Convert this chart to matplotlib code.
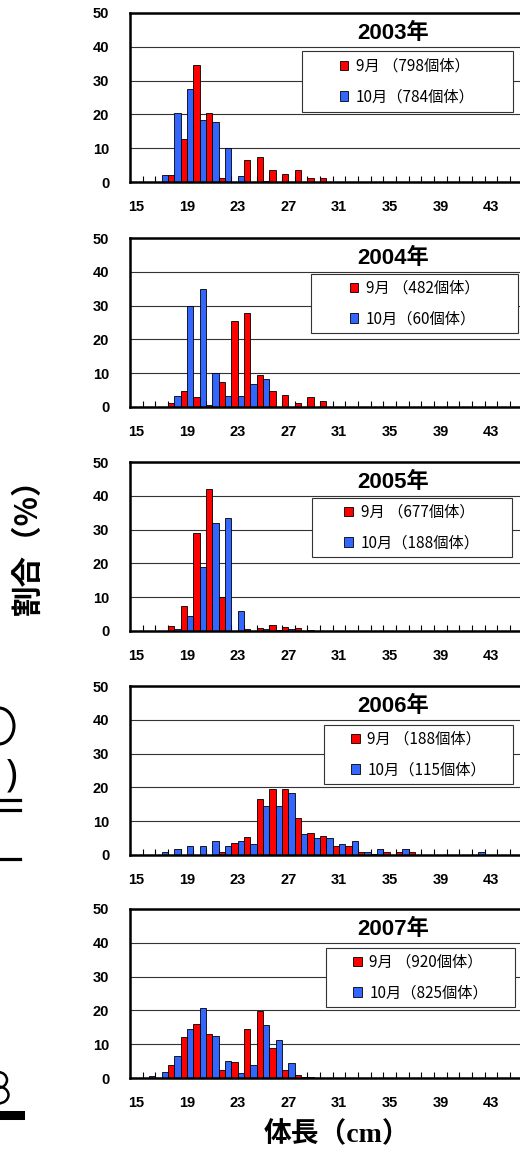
import numpy as np
import matplotlib.pyplot as plt
from matplotlib.patches import Patch, Rectangle, Arc
from matplotlib.font_manager import FontProperties

# body length classes (cm)
lengths = list(range(15, 46))
tick_lengths = [15, 19, 23, 27, 31, 35, 39, 43]

years = ["2003年", "2004年", "2005年", "2006年", "2007年"]
sep_n = ["798", "482", "677", "188", "920"]
oct_n = ["784", "60", "188", "115", "825"]

#            15   16   17   18    19    20    21    22    23   24    25    26    27    28    29   30   31 32 33 34 35 36 37 38 39 40 41 42 43 44 45
sep_2003 = [0, 0, 0, 2.0, 12.6, 34.7, 20.5, 1.3, 0, 6.6, 7.5, 3.5, 2.4, 3.5, 1.3, 1.3,
            0, 0, 0, 0, 0, 0, 0, 0, 0, 0, 0, 0, 0, 0, 0]
oct_2003 = [0, 0, 2.0, 20.3, 27.4, 18.4, 17.8, 10.2, 1.7, 0, 0.4,
            0, 0, 0, 0, 0, 0, 0, 0, 0, 0, 0, 0, 0, 0, 0, 0, 0, 0, 0, 0]
sep_2004 = [0, 0, 0, 1.3, 4.7, 3.0, 0.7, 7.3, 25.5, 27.7, 9.6, 4.7, 3.5, 1.1, 3.0, 1.7,
            0, 0, 0, 0, 0, 0, 0, 0, 0, 0, 0, 0, 0, 0, 0]
oct_2004 = [0, 0, 0, 3.3, 30.0, 35.0, 10.0, 3.3, 3.3, 6.7, 8.3,
            0, 0, 0, 0, 0, 0, 0, 0, 0, 0, 0, 0, 0, 0, 0, 0, 0, 0, 0, 0]
sep_2005 = [0, 0, 0, 1.4, 7.4, 29.1, 41.9, 10.2, 0, 0.7, 0.8, 1.8, 1.2, 0.8, 0.3,
            0, 0, 0, 0, 0, 0, 0, 0, 0, 0, 0, 0, 0, 0, 0, 0]
oct_2005 = [0, 0, 0, 0.7, 4.4, 18.9, 32.0, 33.5, 5.9, 0, 0.6, 0.4, 0.7,
            0, 0, 0, 0, 0, 0, 0, 0, 0, 0, 0, 0, 0, 0, 0, 0, 0, 0]
sep_2006 = [0, 0, 0, 0, 0, 0, 0, 0.8, 3.6, 5.2, 16.6, 19.6, 19.6, 10.9, 6.4, 5.7,
            2.6, 2.8, 0.8, 0.4, 0.8, 0.8, 0.8, 0, 0, 0, 0, 0, 0, 0, 0]
oct_2006 = [0, 0, 0.8, 1.7, 2.7, 2.7, 4.1, 2.7, 4.1, 3.3, 14.6, 14.6, 18.3, 6.1, 5.1, 5.1,
            3.2, 4.1, 0.8, 1.7, 0, 1.7, 0, 0, 0, 0, 0, 0.8, 0, 0, 0]
sep_2007 = [0, 0, 0, 3.7, 12.0, 16.0, 13.1, 2.4, 4.8, 14.4, 19.8, 9.0, 2.4, 0.8, 0.2, 0,
            0.1, 0, 0, 0, 0, 0, 0, 0, 0, 0, 0, 0, 0, 0, 0]
oct_2007 = [0, 0.6, 1.8, 6.6, 14.6, 20.8, 12.5, 5.0, 1.4, 3.9, 15.8, 11.3, 4.5, 0.4, 0.1, 0,
            0, 0, 0, 0, 0, 0, 0, 0, 0, 0, 0, 0, 0, 0, 0]

sep_data = [sep_2003, sep_2004, sep_2005, sep_2006, sep_2007]
oct_data = [oct_2003, oct_2004, oct_2005, oct_2006, oct_2007]

RED = "#ff0000"
BLUE = "#3366ff"
W, H = 520, 1152

# layout in pixels
AX_LEFT = 130
AX_W = 31 * 12.67
AX_H = 169
tops = [13, 238, 462, 686, 909]
legend_boxes = [(302, 513, 38, 99), (311, 518, 36, 95), (312, 512, 36, 95),
                (324, 513, 39, 98), (326, 515, 39, 98)]

tick_font = dict(family=["Liberation Sans"], weight="bold", size=10.5)
leg_font = FontProperties(family=["Noto Sans CJK JP"], size=11)


def draw_panel(ax, i):
    x = np.array(lengths)
    ax.bar(x - 0.25, sep_data[i], 0.5, color=RED, edgecolor="black", linewidth=0.6, zorder=2)
    ax.bar(x + 0.25, oct_data[i], 0.5, color=BLUE, edgecolor="black", linewidth=0.6, zorder=2)

    ax.set_xlim(14.5, 45.5)
    ax.set_ylim(0, 50)
    ax.set_yticks(range(0, 51, 10))
    ax.set_yticklabels([str(v) for v in range(0, 51, 10)], fontdict=tick_font)
    ax.set_xticks(tick_lengths)
    ax.set_xticklabels([str(v) for v in tick_lengths], fontdict=tick_font)
    ax.set_xticks(np.arange(15.5, 45.5, 1), minor=True)
    ax.tick_params(axis="x", which="major", length=0, pad=13)
    ax.tick_params(axis="x", which="minor", direction="in", length=4, width=0.8)
    ax.tick_params(axis="y", length=0, pad=15)

    ax.yaxis.grid(True, color="#333333", linewidth=0.8)
    ax.set_axisbelow(True)
    for side in ["left", "bottom", "top"]:
        ax.spines[side].set_linewidth(1.8)
    ax.spines["right"].set_visible(False)

    ax.text(0.67, 1 - 20 / AX_H, years[i], transform=ax.transAxes, ha="center", va="center",
            fontsize=16, fontweight="bold", family=["Liberation Sans", "Noto Sans CJK JP"])

    x0, x1, y0, y1 = legend_boxes[i]
    fx0 = (x0 - AX_LEFT) / AX_W
    fx1 = (x1 - AX_LEFT) / AX_W
    fy0 = 1 - y1 / AX_H
    fy1 = 1 - y0 / AX_H
    ax.add_patch(Rectangle((fx0, fy0), fx1 - fx0, fy1 - fy0, transform=ax.transAxes,
                           facecolor="white", edgecolor="#333333", linewidth=0.8, zorder=3))
    handles = [Patch(facecolor=RED, edgecolor="black", linewidth=0.6),
               Patch(facecolor=BLUE, edgecolor="black", linewidth=0.6)]
    labels = [f"9月 （{sep_n[i]}個体）", f"10月（{oct_n[i]}個体）"]
    leg = ax.legend(handles, labels, loc="center", bbox_to_anchor=((fx0 + fx1) / 2, (fy0 + fy1) / 2),
                    bbox_transform=ax.transAxes, frameon=False, prop=leg_font,
                    handlelength=0.55, handleheight=0.55, handletextpad=0.5, labelspacing=0.9,
                    borderpad=0)
    leg.set_zorder(5)


def draw_edge_fragments(fig):
    # bits of the neighbouring figure, cut off at the left edge (pixel coords)
    ov = fig.add_axes([0, 0, 1, 1], zorder=-1)
    ov.set_xlim(0, W)
    ov.set_ylim(H, 0)
    ov.axis("off")
    ov.add_patch(Arc((-1, 726), 30, 36, theta1=-90, theta2=90, color="black", linewidth=2.2))
    ov.add_patch(Arc((-2, 1080), 18, 16, theta1=-90, theta2=90, color="black", linewidth=1.8))
    ov.add_patch(Arc((-2, 1095), 21, 17, theta1=-90, theta2=90, color="black", linewidth=1.8))
    ov.plot([0, 20], [799.5, 799.5], color="black", linewidth=2.3)
    ov.plot([0, 20], [809.5, 809.5], color="black", linewidth=2.3)
    ov.plot([0, 20], [858.5, 858.5], color="black", linewidth=2.3)
    ov.plot([0, 20], [1114.5, 1114.5], color="black", linewidth=6.5)
    ov.text(12, 776, ")", ha="center", va="center", fontsize=28, family=["Noto Sans"])


def main():
    fig = plt.figure(figsize=(W / 100, H / 100), dpi=100)

    draw_edge_fragments(fig)

    for i, top in enumerate(tops):
        ax = fig.add_axes([AX_LEFT / W, 1 - (top + AX_H) / H, AX_W / W, AX_H / H])
        draw_panel(ax, i)

    fig.text(28 / W, 1 - 539 / H, "割合（%）", rotation=90, ha="center", va="center",
             fontsize=22, fontweight="bold", family=["Noto Sans CJK JP"])
    fig.text(337 / W, 1 - 1135 / H, "体長（cm）", ha="center", va="center",
             fontsize=20, fontweight="bold", family=["Liberation Serif", "Noto Sans CJK JP"])

    fig.savefig("out.png", dpi=100)


if __name__ == "__main__":
    main()
